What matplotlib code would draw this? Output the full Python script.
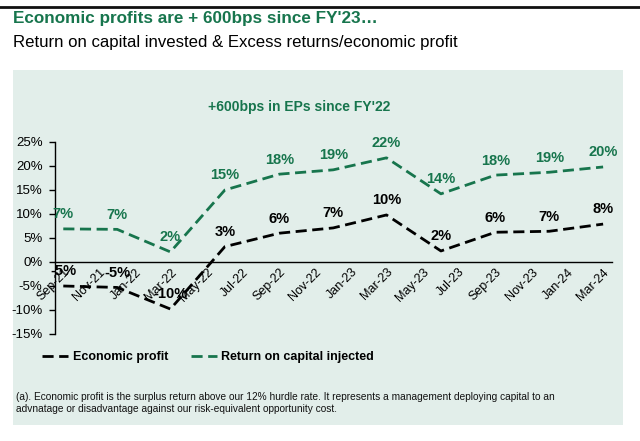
import matplotlib
matplotlib.use("Agg")
import matplotlib.pyplot as plt
import matplotlib.dates as mdates
import pandas as pd
from matplotlib.patches import Rectangle
from matplotlib.lines import Line2D
from matplotlib.ticker import FuncFormatter

plt.rcParams["font.family"] = ["Liberation Sans", "DejaVu Sans"]

GREEN = "#17754d"
PANEL = "#e2eeea"

# quarterly points
quarters = ["Sep-21", "Dec-21", "Mar-22", "Jun-22", "Sep-22", "Dec-22",
            "Mar-23", "Jun-23", "Sep-23", "Dec-23", "Mar-24"]
economic_profit = [-5.0, -5.3, -9.8, 3.2, 6.0, 7.1, 9.8, 2.3, 6.2, 6.4, 7.9]
return_on_capital = [6.9, 6.8, 2.1, 15.0, 18.3, 19.2, 21.7, 14.2, 18.1, 18.7, 19.8]
ep_labels = ["-5%", "-5%", "-10%", "3%", "6%", "7%", "10%", "2%", "6%", "7%", "8%"]
roc_labels = ["7%", "7%", "2%", "15%", "18%", "19%", "22%", "14%", "18%", "19%", "20%"]

dates = pd.to_datetime(quarters, format="%b-%y")

fig = plt.figure(figsize=(6.4, 4.41), dpi=100)

# background panel and top rule
fig.patches.append(Rectangle((13 / 640, 1 - 425 / 441), 610 / 640, 355 / 441,
                             transform=fig.transFigure, facecolor=PANEL,
                             edgecolor="none", zorder=-5))
fig.lines.append(Line2D([0, 1], [1 - 7 / 441, 1 - 7 / 441], transform=fig.transFigure,
                        color="#111111", lw=2, zorder=-5))

fig.text(13 / 640, 1 - 18 / 441, "Economic profits are + 600bps since FY'23\u2026",
         color=GREEN, fontsize=12.3, fontweight="bold", va="center")
fig.text(13 / 640, 1 - 42 / 441, "Return on capital invested & Excess returns/economic profit",
         color="black", fontsize=12.1, va="center")
fig.text(299 / 640, 1 - 107 / 441, "+600bps in EPs since FY'22",
         color=GREEN, fontsize=10, fontweight="bold", ha="center", va="center")

ax = fig.add_axes([55 / 640, 1 - 334 / 441, 557 / 640, 192 / 441])
ax.set_facecolor("none")

ax.plot(dates, economic_profit, color="black", lw=2, dashes=(4, 2),
        label="Economic profit")
ax.plot(dates, return_on_capital, color=GREEN, lw=2, dashes=(4, 2),
        label="Return on capital injected")

for d, v, t in zip(dates, economic_profit, ep_labels):
    ax.annotate(t, (d, v), xytext=(0, 10.5), textcoords="offset points",
                ha="center", va="center", fontsize=10.5, fontweight="bold", color="black")
for d, v, t in zip(dates, return_on_capital, roc_labels):
    ax.annotate(t, (d, v), xytext=(0, 10.5), textcoords="offset points",
                ha="center", va="center", fontsize=10.5, fontweight="bold", color=GREEN)

ax.set_ylim(-15, 25)
ax.set_yticks(range(-15, 26, 5))
ax.yaxis.set_major_formatter(FuncFormatter(lambda v, p: f"{v:.0f}%"))
ax.set_xlim(pd.Timestamp("2021-08-18"), pd.Timestamp("2024-03-16"))
ax.xaxis.set_major_locator(mdates.MonthLocator(bymonth=[1, 3, 5, 7, 9, 11]))
ax.xaxis.set_major_formatter(mdates.DateFormatter("%b-%y"))

for s in ["top", "right"]:
    ax.spines[s].set_visible(False)
ax.spines["bottom"].set_position(("data", 0))
ax.spines["bottom"].set_linewidth(1)
ax.spines["left"].set_linewidth(1)
ax.tick_params(axis="y", labelsize=9.5, length=4, width=1, pad=5)
ax.tick_params(axis="x", labelsize=9, length=0, pad=3)
for lbl in ax.get_xticklabels():
    lbl.set_rotation(45)
    lbl.set_ha("right")
    lbl.set_rotation_mode("anchor")

leg = ax.legend(loc="center left", bbox_to_anchor=(-0.023, -0.12), ncol=2, frameon=False,
                prop={"weight": "bold", "size": 9}, handlelength=2.1,
                columnspacing=1.8, handletextpad=0.35, borderpad=0, borderaxespad=0)

fig.text(16 / 640, 1 - 403 / 441,
         "(a). Economic profit is the surplus return above our 12% hurdle rate. It represents a "
         "management deploying capital to an\nadvnatage or disadvantage against our "
         "risk-equivalent opportunity cost.",
         fontsize=7.3, va="center", linespacing=1.35, color="#111111")

fig.savefig("out.png", dpi=100)
